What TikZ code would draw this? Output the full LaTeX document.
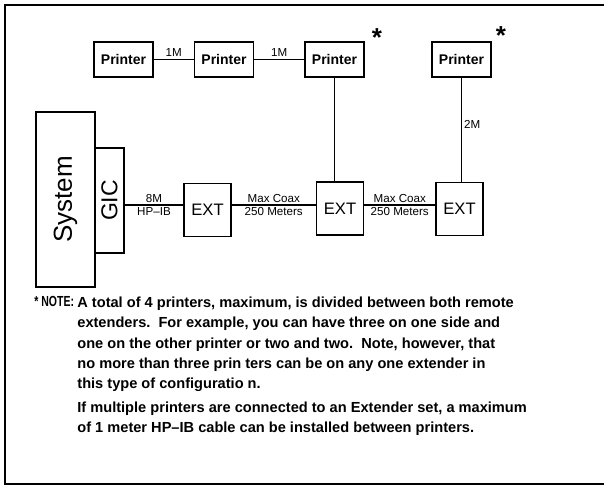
\documentclass[tikz,border=0pt]{standalone}
\usepackage{fontspec}
\setmainfont{Liberation Sans}
\usetikzlibrary{positioning}

\newcommand{\fsz}[1]{\fontsize{#1}{1.2\dimexpr#1\relax}\selectfont}

\begin{document}
\begin{tikzpicture}[x=0.5pt, y=-0.5pt,
  box/.style={draw, line width=0.75pt, inner sep=0pt},
  prn/.style={box, minimum width=29.5pt, minimum height=17.5pt, font=\fsz{7pt}\bfseries},
  ext/.style={box, minimum width=23.5pt, minimum height=26.5pt, font=\fsz{8.3pt}},
  wire/.style={line width=0.6pt},
  lbl/.style={font=\fsz{5.8pt}, inner sep=1pt},
  star/.style={font=\fsz{13pt}\bfseries, inner sep=0pt}]
\useasboundingbox (0,0) rectangle (604,485);
% frame
\draw[line width=1pt] (606,5) -- (5,5) -- (5,484) -- (606,484);
% printers
\node[prn] (p1) at (123.5,59.5) {Printer};
\node[prn] (p2) at (224,59.5) {Printer};
\node[prn] (p3) at (334.5,59.5) {Printer};
\node[prn] (p4) at (461.5,59.5) {Printer};
\node[star] (s1) at (377,38) {*};
\node[star] (s2) at (501,36) {*};
% system and GIC
\node[box, minimum width=29.5pt, minimum height=87.5pt] (sys) at (65.5,199.5) {};
\node[rotate=90, font=\fsz{13pt}] at (sys.center) {System};
\node[box, minimum width=14.5pt, minimum height=52.5pt] (gic) at (109.5,200.5) {};
\node[rotate=90, font=\fsz{11.5pt}] at (gic.center) {GIC};
% extenders
\node[ext] (e1) at (207.5,210) {EXT};
\node[ext] (e2) at (340,208.5) {EXT};
\node[ext] (e3) at (459.5,209) {EXT};
% connections
\draw[wire] (p1) -- node[lbl, above] {1M} (p2);
\draw[wire] (p2) -- node[lbl, above] {1M} (p3);
\draw[wire] ([yshift=-2.25pt]gic.east) -- node[lbl, above] {8M} node[lbl, below] {HP--IB} ([yshift=2.5pt]e1.west);
\draw[wire] ([yshift=2.5pt]e1.east) -- node[lbl, above] {Max Coax} node[lbl, below] {250 Meters} ([yshift=1.75pt]e2.west);
\draw[wire] ([yshift=1.75pt]e2.east) -- node[lbl, above] {Max Coax} node[lbl, below] {250 Meters} ([yshift=2pt]e3.west);
\draw[wire] (p3.south) -- (p3.south |- e2.north);
\draw[wire] (p4.south) -- node[lbl, right, pos=0.45] {2M} (p4.south |- e3.north);
% note
\node[anchor=base west, font=\fsz{7.3pt}\bfseries, inner sep=0pt] (nlabel) at (34,307) {\scalebox{0.72}[1]{* NOTE:}};
\node[anchor=north west, align=left, inner sep=0pt,
  font=\fontsize{7.3pt}{10.2pt}\selectfont\bfseries] (note) at (nlabel.north -| 77,0) {%
A total of 4 printers, maximum, is divided between both remote\\
extenders.\ \ For example, you can have three on one side and\\
one on the other printer or two and two.\ \ Note, however, that\\
no more than three prin ters can be on any one extender in\\
this type of configuratio n.\\[1.6pt]
If multiple printers are connected to an Extender set, a maximum\\
of 1 meter HP--IB cable can be installed between printers.};
\end{tikzpicture}
\end{document}
